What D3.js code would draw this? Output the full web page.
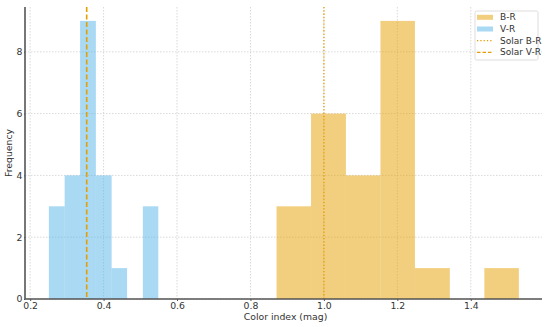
<!DOCTYPE html>
<html>
<head>
<meta charset="utf-8">
<script src="https://cdn.jsdelivr.net/npm/d3@7"></script>
<style>
  body { margin: 0; background: #fff; }
  svg { font-family: "DejaVu Sans", sans-serif; }
</style>
</head>
<body>
<svg id="chart"></svg>
<script>
// histogram bins (edges) and counts
const brEdges = [0.871, 0.965, 1.060, 1.154, 1.248, 1.343, 1.437, 1.531];
const brCounts = [3, 6, 4, 9, 1, 0, 1];
const vrEdges = [0.251, 0.294, 0.336, 0.379, 0.422, 0.464, 0.507, 0.549];
const vrCounts = [3, 4, 9, 4, 1, 0, 3];
const solarBR = 1.0;
const solarVR = 0.354;
const xTicks = [0.2, 0.4, 0.6, 0.8, 1.0, 1.2, 1.4];
const yTicks = [0, 2, 4, 6, 8];

const W = 550, H = 327;
const margin = { top: 7, right: 8, bottom: 28, left: 25 };
const width = W - margin.left - margin.right;
const height = H - margin.top - margin.bottom;

const orange = '#E69F00';
const blue = '#56B4E9';

const svg = d3.select('#chart').attr('width', W).attr('height', H);
const g = svg.append('g')
    .attr('transform', `translate(${margin.left},${margin.top})`);

const x = d3.scaleLinear().domain([0.186, 1.594]).range([0, width]);
const y = d3.scaleLinear().domain([0, 9.45]).range([height, 0]);

// grid
g.append('g').selectAll('line').data(xTicks).enter().append('line')
    .attr('x1', d => x(d)).attr('x2', d => x(d))
    .attr('y1', 0).attr('y2', height)
    .attr('stroke', '#cfcfcf').attr('stroke-width', 0.8)
    .attr('stroke-dasharray', '1.5,1.5');
g.append('g').selectAll('line').data(yTicks).enter().append('line')
    .attr('x1', 0).attr('x2', width)
    .attr('y1', d => y(d)).attr('y2', d => y(d))
    .attr('stroke', '#cfcfcf').attr('stroke-width', 0.8)
    .attr('stroke-dasharray', '1.5,1.5');

function bins(edges, counts) {
  return counts.map((c, i) => ({ x0: edges[i], x1: edges[i + 1], n: c }));
}

function drawHist(data, color) {
  g.append('g').selectAll('rect').data(data.filter(d => d.n > 0)).enter().append('rect')
      .attr('x', d => x(d.x0))
      .attr('width', d => x(d.x1) - x(d.x0))
      .attr('y', d => y(d.n))
      .attr('height', d => y(0) - y(d.n))
      .attr('fill', color)
      .attr('fill-opacity', 0.5);
}

drawHist(bins(brEdges, brCounts), orange);
drawHist(bins(vrEdges, vrCounts), blue);

// solar reference lines
g.append('line')
    .attr('x1', x(solarBR)).attr('x2', x(solarBR))
    .attr('y1', 0).attr('y2', height)
    .attr('stroke', orange).attr('stroke-width', 1.3)
    .attr('stroke-dasharray', '1.3,2');
g.append('line')
    .attr('x1', x(solarVR)).attr('x2', x(solarVR))
    .attr('y1', 0).attr('y2', height)
    .attr('stroke', orange).attr('stroke-width', 1.6)
    .attr('stroke-dasharray', '5,2.5');

// axes
const xAxis = g.append('g')
    .attr('transform', `translate(0,${height})`)
    .call(d3.axisBottom(x).tickValues(xTicks).tickFormat(d3.format('.1f')).tickSize(2).tickPadding(1.5));
const yAxis = g.append('g')
    .call(d3.axisLeft(y).tickValues(yTicks).tickFormat(d3.format('d')).tickSize(1).tickPadding(1.5));

[xAxis, yAxis].forEach(a => {
  a.select('.domain').attr('stroke', '#555').attr('stroke-width', 1.6);
  a.selectAll('.tick line').attr('stroke', '#555');
  a.selectAll('.tick text').attr('fill', '#333').style('font-size', '9.3px')
      .style('font-family', '"DejaVu Sans", sans-serif');
});
// only left and bottom spines; trim domain end caps
xAxis.select('.domain').attr('d', `M0,0H${width}`);
yAxis.select('.domain').attr('d', `M0,0V${height}`);

svg.append('text')
    .attr('x', margin.left + width / 2 + 2).attr('y', 320)
    .attr('text-anchor', 'middle').attr('fill', '#333')
    .style('font-size', '9.3px')
    .text('Color index (mag)');
svg.append('text')
    .attr('transform', `translate(12,${margin.top + height / 2}) rotate(-90)`)
    .attr('text-anchor', 'middle').attr('fill', '#333')
    .style('font-size', '9.3px')
    .text('Frequency');

// legend
const legend = svg.append('g').attr('transform', 'translate(475,11)');
legend.append('rect')
    .attr('width', 63).attr('height', 49)
    .attr('fill', '#fff').attr('fill-opacity', 0.8)
    .attr('stroke', '#ddd').attr('rx', 1.5);
const items = [
  { label: 'B-R', type: 'patch', color: orange },
  { label: 'V-R', type: 'patch', color: blue },
  { label: 'Solar B-R', type: 'line', dash: '1.3,2' },
  { label: 'Solar V-R', type: 'line', dash: '3.5,2' }
];
items.forEach((it, i) => {
  const row = legend.append('g').attr('transform', `translate(0,${6.3 + i * 11.7})`);
  if (it.type === 'patch') {
    row.append('rect').attr('x', 2).attr('y', -2.5).attr('width', 16).attr('height', 5)
        .attr('fill', it.color).attr('fill-opacity', 0.5);
  } else {
    row.append('line').attr('x1', 2).attr('x2', 18).attr('y1', 0).attr('y2', 0)
        .attr('stroke', orange).attr('stroke-width', 1.3)
        .attr('stroke-dasharray', it.dash);
  }
  row.append('text').attr('x', 25).attr('y', 3)
      .attr('fill', '#333').style('font-size', '9px')
      .text(it.label);
});
</script>
</body>
</html>
